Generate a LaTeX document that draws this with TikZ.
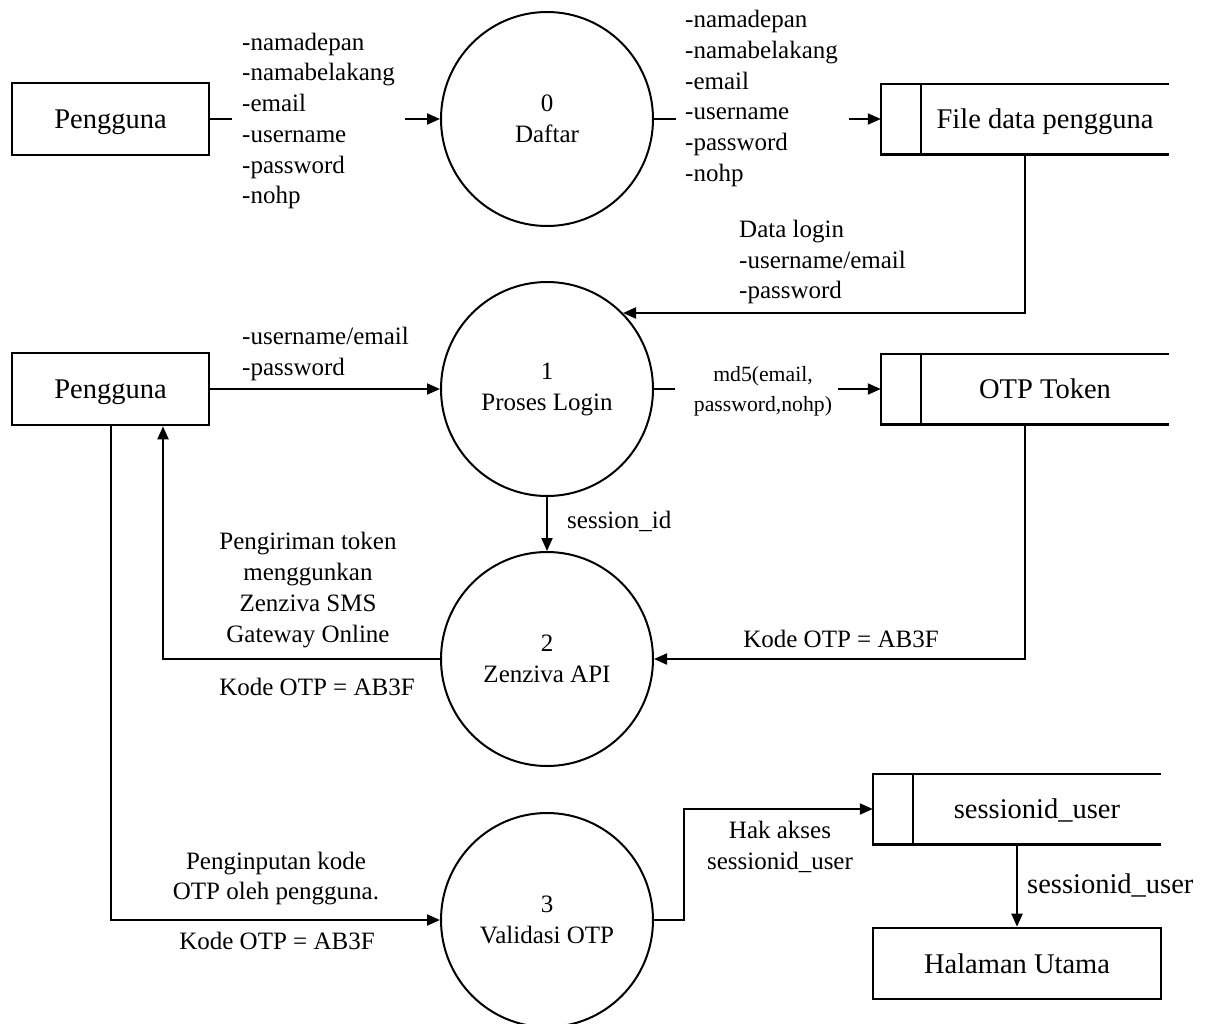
\documentclass[tikz,border=0pt]{standalone}
\usepackage{fontspec}
\setmainfont{Liberation Serif}
\usetikzlibrary{arrows.meta,shapes.geometric,calc}
\begin{document}
\begin{tikzpicture}[x=1pt,y=-1pt,
  every node/.style={inner sep=0pt},
  txt/.style={font=\fontsize{25}{30.7}\selectfont, align=left},
  ctxt/.style={font=\fontsize{25}{30.7}\selectfont, align=center},
  bigtxt/.style={font=\fontsize{28.5}{34}\selectfont, text depth=0pt},
  smalltxt/.style={font=\fontsize{21.7}{30}\selectfont, align=center},
  entity/.style={draw, line width=2.6pt, minimum width=197pt, minimum height=72pt,
    font=\fontsize{28.5}{34}\selectfont, text depth=0pt},
  process/.style={ellipse, draw, line width=2pt, minimum width=212pt, minimum height=214pt,
    align=center, font=\fontsize{25}{31}\selectfont},
  storearea/.style={minimum width=288pt, minimum height=70pt},
  storeline/.style={line width=2.6pt},
  flow/.style={line width=2pt},
  arr/.style={flow, -{Triangle[length=13pt,width=11pt]}},
]
\useasboundingbox (0,0) rectangle (1215,1023);

% external entities
\node[entity] (p1) at (110.5,119) {Pengguna};
\node[entity] (p2) at (110.5,389) {Pengguna};
\node[entity, minimum width=288pt, minimum height=71pt] (hu) at (1017,963.5) {Halaman Utama};

% processes
\node[process] (c0) at (547,119) {0\\Daftar};
\node[process] (c1) at (547,389) {1\\Proses Login};
\node[process] (c2) at (547,659) {2\\Zenziva API};
\node[process] (c3) at (547,920) {3\\Validasi OTP};

% data stores
\node[storearea] (fs) at (1025,119) {};
\draw[storeline] (fs.north east) -- (fs.north west) -- (fs.south west) -- (fs.south east);
\draw[storeline] ([xshift=40pt]fs.north west) -- ([xshift=40pt]fs.south west);
\node[bigtxt] (fst) at ([xshift=20pt]fs.center) {File data pengguna};

\node[storearea] (os) at (1025,389) {};
\draw[storeline] (os.north east) -- (os.north west) -- (os.south west) -- (os.south east);
\draw[storeline] ([xshift=40pt]os.north west) -- ([xshift=40pt]os.south west);
\node[bigtxt] (ost) at ([xshift=20pt]os.center) {OTP Token};

\node[storearea] (ss) at (1017,809) {};
\draw[storeline] (ss.north east) -- (ss.north west) -- (ss.south west) -- (ss.south east);
\draw[storeline] ([xshift=40pt]ss.north west) -- ([xshift=40pt]ss.south west);
\node[bigtxt] (sst) at ([xshift=20pt]ss.center) {sessionid\_user};

% break points where flows pass behind their labels
\coordinate (b1) at (232,119);
\coordinate (b2) at (405,119);
\coordinate (b3) at (676,119);
\coordinate (b4) at (849,119);
\coordinate (b5) at (675,389);
\coordinate (b6) at (838,389);

% flows
\draw[flow] (p1.east) -- (b1);
\draw[arr] (b2) -- (c0.west);
\draw[flow] (c0.east) -- (b3);
\draw[arr] (b4) -- (fs.west);
\draw[arr] (fs.south) |- (c1.45);
\draw[arr] (p2.east) -- (c1.west);
\draw[flow] (c1.east) -- (b5);
\draw[arr] (b6) -- (os.west);
\draw[arr] (c1.south) -- (c2.north);
\draw[arr] (os.south) |- (c2.east);
\draw[arr] (c2.west) -| ([xshift=52.5pt]p2.south);
\draw[arr] (p2.south) |- (c3.west);
\draw[arr] (c3.east) -- ++(30,0) |- (ss.west);
\draw[arr] (ss.south) -- (hu.north);

% flow labels
\node[txt, anchor=west] (la) at (242,121)
  {-namadepan\\-namabelakang\\-email\\-username\\-password\\-nohp};
\node[txt, anchor=west] (lb) at (685,98.5)
  {-namadepan\\-namabelakang\\-email\\-username\\-password\\-nohp};
\node[txt, anchor=west] (lc) at (739,262) {Data login\\-username/email\\-password};
\node[txt, anchor=west] (ld) at (242,354) {-username/email\\-password};
\node[smalltxt] (le) at (763,391) {md5(email,\\password,nohp)};
\node[txt, anchor=west] (lf) at (567,521) {session\_id};
\node[ctxt] (lg) at (308,590) {Pengiriman token\\menggunkan\\Zenziva SMS\\Gateway Online};
\node[ctxt] (lh) at (317,687) {Kode OTP = AB3F};
\node[ctxt] (li) at (841,639) {Kode OTP = AB3F};
\node[ctxt] (lj) at (276,878.5) {Penginputan kode\\OTP oleh pengguna.};
\node[ctxt] (lk) at (277,941) {Kode OTP = AB3F};
\node[ctxt] (ll) at (780,847) {Hak akses\\sessionid\_user};
\node[bigtxt, anchor=west] (lm) at (1027,884) {sessionid\_user};
\end{tikzpicture}
\end{document}
